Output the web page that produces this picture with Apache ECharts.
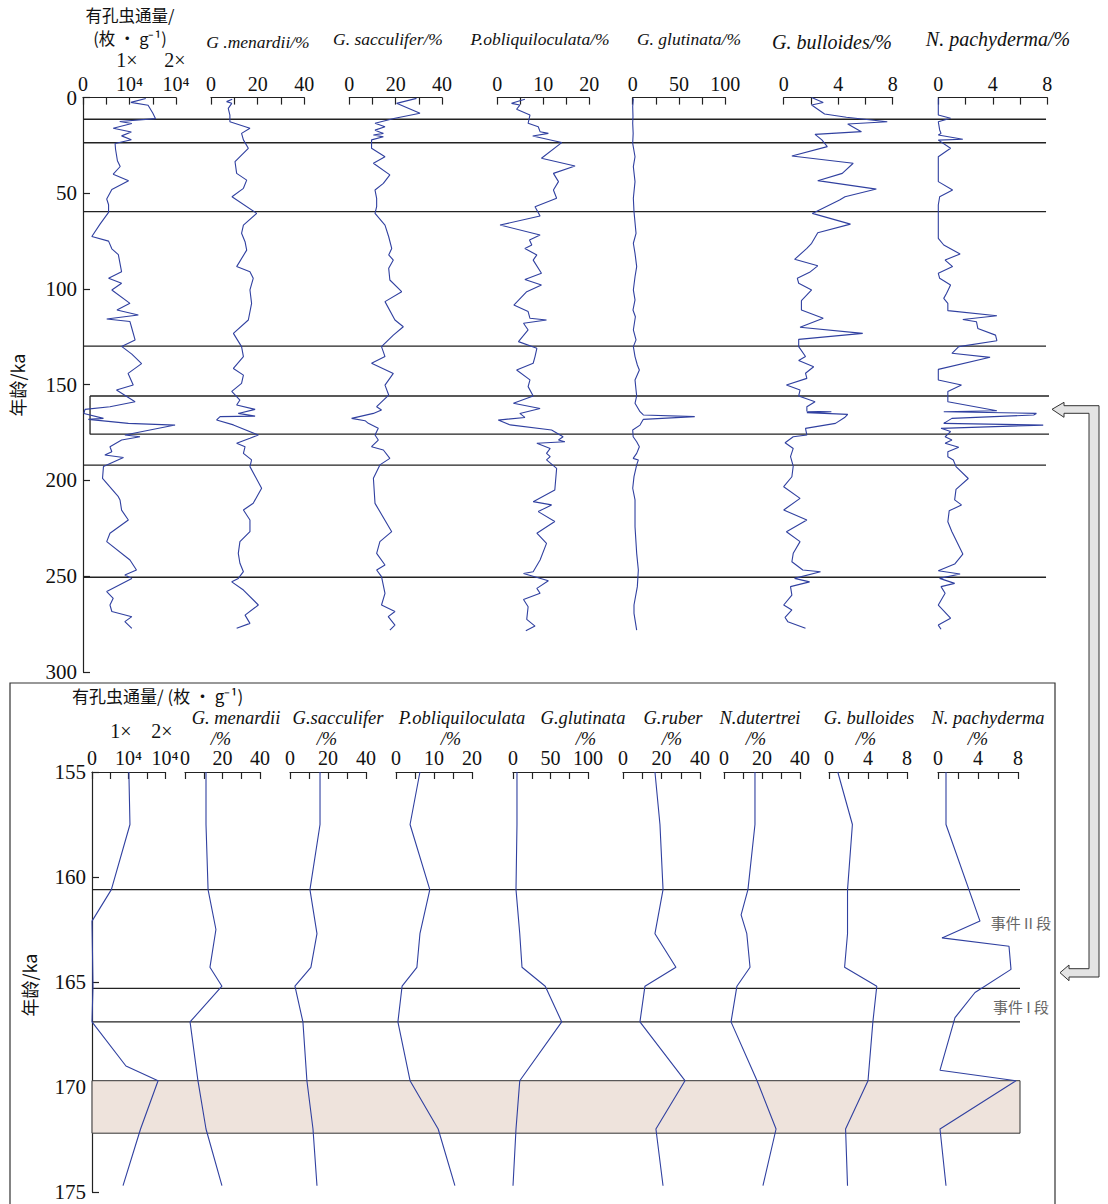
<!DOCTYPE html>
<html><head><meta charset="utf-8">
<script src="https://cdn.jsdelivr.net/npm/echarts@6/dist/echarts.min.js"></script>
<style>html,body{margin:0;padding:0;background:#fff}#c{width:1108px;height:1204px}</style>
</head><body><div id="c"></div>
<script>
// ---------- DATA (pairs are [age ka, value]) ----------
const fluxTop = [[0.5,13500],[2.5,10300],[4,14000],[8,15000],[11,15600],[12.5,7900],[13.5,10500],[16,6500],[18,10400],[20,8300],[22,10400],[24,6900],[27,7000],[33,7400],[36,8000],[40,6500],[43.5,9800],[48,6200],[53,5100],[56,5500],[60,5500],[66,3700],[72.6,1900],[75,5500],[79,6200],[82,7600],[91,8300],[94.4,5500],[97,8300],[100.5,6200],[107.5,10100],[111,7300],[113.6,11900],[115.7,5100],[117,10100],[120.5,10500],[126.6,11200],[130,8300],[134,10500],[139,12600],[144.1,9700],[150.2,10800],[152.8,7200],[158.9,11200],[161.5,5800],[162.9,430],[165,200],[167.6,4400],[168.1,1150],[170.2,9750],[171.1,19800],[176.3,9000],[177.2,12260],[178.9,8300],[182.4,5800],[185,6200],[186.7,4700],[188,8700],[192.8,4400],[198.9,4200],[208.5,7600],[210.2,7960],[215.5,8300],[220.7,9750],[227.6,5800],[232,5100],[241.6,10100],[246.8,11500],[249.4,9000],[251.2,10500],[258.1,5100],[261.6,6500],[265.1,5800],[268.5,6200],[271.2,10500],[273.8,9000],[277.3,10500]];
const menardiiTop = [[0.9,9.1],[2.1,6.7],[3,8.9],[5.6,7.4],[9.1,8.1],[12.6,8.1],[16,16.7],[18.7,13.1],[22.1,13.9],[26.5,16],[33.5,10.3],[39.6,11],[43.1,15.3],[47.4,13.9],[51.8,9],[60.5,19.6],[66.6,13.9],[70.9,13.1],[75.3,14.6],[79.7,15.3],[88.3,11],[91,16.7],[94.4,18.1],[100.5,16.7],[107.5,17.4],[116.2,16],[123.2,9.6],[130.1,13.1],[135.3,13.9],[141.5,9.6],[145,13.9],[149.3,13.1],[153.5,8.9],[158,12.4],[160.6,11],[162.9,18.9],[165,11.7],[166.4,18.9],[166.7,3.9],[168.4,2.4],[171,9.6],[176.3,20.3],[178,16.7],[180.6,11],[182.4,14.6],[185.9,13.9],[189.3,17.4],[192.8,16.7],[204.1,21.7],[211.9,18.1],[215.5,13.9],[220.7,16.7],[226.8,16.7],[232,12.4],[238.1,11.7],[243.3,12.4],[247.7,13.9],[251.2,11.7],[253,8.9],[257.3,13.9],[265.1,20.3],[270.4,14.6],[274.7,16.7],[277.3,11]];
const sacculiferTop = [[0.4,29],[3,20.4],[8.2,30.5],[10.8,19.7],[13.4,11.1],[15.2,15.4],[17,11.1],[18.7,14.7],[19.5,10.4],[20.5,14.7],[22.1,9.6],[26.5,9.6],[30.9,15.4],[34.3,10.4],[40.4,17.5],[44.8,14.7],[48.3,11.1],[52.6,11.8],[57,11.8],[60.5,11.1],[66.6,15.4],[72.7,17],[78.8,18.3],[82.2,17],[84.9,19],[89.2,17],[95.3,17.5],[101.4,22.6],[106.6,15.4],[116.2,19.7],[119.7,23.3],[124.1,19],[130.1,13.9],[135.3,15.4],[138.8,9.6],[144.1,19],[150.2,15.4],[155.4,17],[161.5,11.8],[163.2,13.9],[165,10.4],[167.6,1],[168.8,6.8],[170.2,8.2],[172.8,12.5],[176.3,11.1],[178.9,12.5],[182.4,9.6],[184.1,14.7],[188.5,17.5],[191.9,13.2],[198.9,10.4],[212,11.1],[226.8,18.3],[232,13.2],[238.1,11.8],[244.2,15.4],[246.8,11.8],[250.3,13.9],[259,15.4],[265.1,13.9],[268.5,19.7],[271.2,16.8],[275.6,19.7],[278.2,17.5]];
const obliqTop = [[0.9,6],[3,3.1],[3.9,4.9],[6.1,4.2],[9.1,7.1],[13.4,6.7],[15.2,8.9],[17.8,9.3],[18.7,11.1],[20.1,7.7],[23.5,14],[31.7,9.6],[35.7,16.9],[39.6,12.2],[43.9,13.3],[48.3,12.2],[52.6,12.9],[57,8.2],[61.9,9.3],[66.6,0.6],[71.8,9.3],[74.4,7],[77,7.5],[78.8,6],[82.2,8.6],[84.9,7.8],[91.8,9.6],[95,6],[97.9,9.6],[101.4,6.4],[108.4,3.6],[111.8,6.7],[115.3,7.1],[116.2,10.7],[117.9,5.7],[121.4,6.7],[127.5,4.6],[131,8.6],[135.3,8.2],[138.8,7.8],[142.3,4.2],[147.5,7.1],[151,6.7],[155.9,7.8],[159.7,3.5],[162.4,9.3],[165,4.9],[167.1,6],[168.5,0.2],[171,2.8],[173.7,11.8],[177.2,14.3],[178.9,13.3],[179.8,14.7],[180.6,8.6],[183.3,11.5],[185.9,10.7],[187.6,11.5],[189.3,10.7],[193.7,12.9],[205,12.5],[211.1,7.8],[212.8,11.8],[216.3,8.9],[221.5,12.5],[227.6,8.6],[232.9,10.7],[241.6,9.3],[247.7,7.8],[248.6,5.7],[252.4,11.1],[256.4,8.6],[259,9.3],[262.2,5.7],[266,6.7],[272.6,6.4],[276.1,8.2],[278.5,6.2]];
const glutinataTop = [[0.4,0.7],[4.7,0],[9.9,0.3],[13.4,0],[18.7,0.5],[23.9,0],[30.9,2.5],[36.1,0.7],[43.9,2.5],[52.6,0.7],[59.6,1.4],[70.9,3.6],[76.1,0.7],[81.4,2.5],[88.3,4.3],[93.6,2.5],[100.5,0.7],[105.7,2.5],[111,0.3],[114.5,2.9],[121.4,0.7],[126.6,3.6],[130.1,0.7],[135.3,2.5],[139.7,5],[142.3,7.2],[147.5,2.5],[152.8,3.6],[155.9,4.3],[159.7,2.5],[164.1,7.9],[165.8,11.5],[166.7,67],[168.1,11.5],[171.1,7.9],[173.7,0],[177.2,0.5],[179.8,4.3],[182.4,7.2],[185.9,4.3],[188.5,0.5],[189.3,6.1],[191.9,4.3],[198,1.4],[204.1,0],[210.2,2.5],[224.2,2.5],[238.1,4.3],[246.8,6.1],[255.5,5],[265.1,1.4],[269.5,1.4],[278.2,4.3]];
const bulloidesTop = [[0,2.05],[2.6,2.9],[3.9,2.05],[8.6,3.0],[10.3,4.6],[12.6,7.6],[13.8,4.7],[17.8,5.7],[19.2,2.3],[22.1,2.8],[25.6,3.2],[30.5,0.6],[34.3,5.1],[39.6,4.3],[43.4,2.5],[47.8,6.8],[51.8,4.5],[53.5,4.1],[60.5,2.1],[66.1,4.9],[70.6,2.5],[76.1,2.05],[78.8,1.7],[84.5,0.8],[87.9,2.5],[91.3,1.9],[94.4,1.0],[97,1.1],[100.5,2.05],[106.1,1.3],[111,1.3],[115.3,2.9],[120,1.2],[123.2,5.8],[126.3,1.1],[130.1,1.1],[135.3,1.6],[137.4,1.1],[140.6,2.2],[144,1.6],[146.7,1.7],[150.2,0.2],[152.8,1.2],[155.9,1.1],[158.9,2.3],[161.5,1.7],[163.9,1.7],[164.1,3.5],[164.6,1.7],[165.5,4.7],[167,4.5],[170.2,3.8],[172.8,1.6],[176.3,1.7],[177.2,0.7],[180.3,0.1],[183.3,0.7],[187.6,0.5],[192.5,0.7],[198.1,0.6],[203.3,0],[209.4,1.2],[215.5,0],[220.7,1.7],[226.8,0.2],[232,1.2],[238.1,0.7],[242.5,0.6],[246.8,1.4],[247.7,2.7],[251.2,0.8],[253,1.9],[255.5,0.5],[259.9,0.6],[265.1,0],[267.7,0.6],[271.6,0.1],[273.8,0.3],[277.3,1.6]];
const pachydermaTop = [[0.5,0],[9.1,0],[10.8,0.9],[12.6,0],[16.9,0.1],[18.7,0.2],[19.5,0],[21.8,1.8],[22.2,0],[26.5,0.9],[30.9,0],[43.9,0],[48.3,1.05],[51.8,0.1],[56.1,0],[73.5,0],[77,0.4],[81.7,1.6],[84.9,0.5],[88.3,1.05],[91.8,0],[94.4,0.1],[97.9,0.9],[102.3,0.6],[104.9,0.4],[107.5,0.7],[111.3,0.7],[114,4.3],[115.9,1.8],[117.1,2.8],[120.6,2.9],[124.1,4.2],[127,4.3],[130.1,1.5],[133.6,1],[135.7,3.8],[142,0],[147.5,0],[150.2,1.7],[153.6,0.7],[158.9,0.7],[163.6,4.3],[164.1,0.4],[165,7.2],[165.8,7],[167.6,1],[170.2,0.4],[171.1,7.7],[172.8,0.2],[174.5,0.9],[177.2,0.5],[178.9,1],[180.6,0.5],[182.7,1.5],[185,0.7],[187.6,0.7],[189.3,1.1],[192.8,1.3],[199,2.2],[204.7,1.3],[210.2,1.2],[212.8,1.7],[215.9,0.8],[221.6,0.7],[226.8,1],[238.5,1.8],[243.7,1.2],[247.2,0],[248.9,1.6],[251.2,0.1],[253.8,1.2],[255.5,0.2],[259,0.5],[265.1,0],[272,0.9],[275.6,0],[277.8,0.2]];

const fluxBot = [[155,10100],[157.5,10400],[160.6,5300],[162.1,0],[165.2,270],[166.9,0],[169,9300],[169.7,18100],[172,13300],[174.7,8500]];
const menardiiBot = [[155,11.2],[157.5,11.2],[160.6,12.3],[162.5,16.5],[164.3,13.3],[165.2,19.7],[166.9,2.7],[169.7,6.9],[172,11.2],[174.7,19.7]];
const sacculiferBot = [[155,15.8],[157.5,15.8],[160.6,10.5],[162.7,14.2],[164.3,11],[165.2,2.6],[166.9,6.8],[169.7,8.9],[172,12.1],[174.7,14.2]];
const obliqBot = [[155,6.3],[157.5,3.7],[160.6,8.9],[162.7,6.3],[164.3,5.5],[165.2,1.6],[166.9,0.5],[169.7,3.7],[172,11.1],[174.7,15.5]];
const glutinataBot = [[155,5.3],[157.5,5.3],[160.6,4],[162.7,9],[164.3,12],[165.2,43],[166.9,65],[169.7,9],[172,4],[174.7,0]];
const ruberBot = [[155,16.6],[157.5,19.2],[160.6,20.8],[162.7,16.6],[164.3,27.5],[165.2,11.4],[166.9,8.8],[169.7,32.2],[172,17.1],[174.7,20.8]];
const dutertreiBot = [[155,16.3],[157.5,16.3],[160.6,12.6],[161.8,9],[162.7,12],[164.3,13.7],[165.2,6.8],[166.9,3.7],[169.7,17.4],[172,27.4],[174.7,20.5]];
const bulloidesBot = [[155,0.9],[157.5,2.4],[160.6,1.9],[162.7,1.9],[164.3,1.6],[165.2,4.9],[166.9,4.5],[169.7,4.0],[172,1.7],[174.7,1.9]];
const pachydermaBot = [[155,0.8],[157.5,0.8],[162.1,4.2],[162.9,0.4],[163.3,7.1],[164.4,7.3],[165.5,3.7],[166.7,1.7],[169.2,0.2],[169.7,7.8],[172,0.2],[174.7,0.8]];

// event boundaries (ka)
const topLines = [11.3, 23.6, 59.6, 129.8, 192, 250.6];
const topBox = [155.9, 175.8];
const botLines = [160.6, 165.3, 166.9];
const botShade = [169.7, 172.2];

// tick labels
const fluxTicks = {0:'0', 10000:'10⁴', 20000:'10⁴'};
const pct40Ticks = {0:'0', 20:'20', 40:'40'};
const pct20Ticks = {0:'0', 10:'10', 20:'20'};
const pct100Ticks = {0:'0', 50:'50', 100:'100'};
const pct8Ticks = {0:'0', 4:'4', 8:'8'};

// ---------- LAYOUT ----------
const SERIF = "'Liberation Serif','Times New Roman',serif";
const CJK = "'Noto Sans CJK SC','Liberation Serif',serif";
const BLUE = '#3040a0';
const topTop = 97.6, topH = 574.2;
const botTop = 772, botH = 420;

const topCols = [
  {left:83, width:93, max:20000, interval:5000, ticks:fluxTicks, data:fluxTop},
  {left:211, width:93.3, max:40, interval:10, ticks:pct40Ticks, data:menardiiTop},
  {left:349.3, width:92.7, max:40, interval:10, ticks:pct40Ticks, data:sacculiferTop},
  {left:497.3, width:92, max:20, interval:5, ticks:pct20Ticks, data:obliqTop},
  {left:632.7, width:92.6, max:100, interval:25, ticks:pct100Ticks, data:glutinataTop},
  {left:783.7, width:109, max:8, interval:2, ticks:pct8Ticks, data:bulloidesTop},
  {left:938.3, width:109, max:8, interval:2, ticks:pct8Ticks, data:pachydermaTop}
];
const botCols = [
  {left:92, width:73, max:20000, interval:5000, ticks:fluxTicks, data:fluxBot},
  {left:185, width:75, max:40, interval:10, ticks:pct40Ticks, data:menardiiBot},
  {left:290, width:76, max:40, interval:10, ticks:pct40Ticks, data:sacculiferBot},
  {left:396, width:76, max:20, interval:5, ticks:pct20Ticks, data:obliqBot},
  {left:513, width:75, max:100, interval:25, ticks:pct100Ticks, data:glutinataBot},
  {left:623, width:77, max:40, interval:10, ticks:pct40Ticks, data:ruberBot},
  {left:724, width:76, max:40, interval:10, ticks:pct40Ticks, data:dutertreiBot},
  {left:829, width:78, max:8, interval:2, ticks:pct8Ticks, data:bulloidesBot},
  {left:938, width:80, max:8, interval:2, ticks:pct8Ticks, data:pachydermaBot}
];

const grid = [], xAxis = [], yAxis = [], series = [];
function addCol(c, top, h, ymin, ymax, fs) {
  const i = grid.length;
  grid.push({left:c.left, top:top, width:c.width, height:h, outerBoundsMode:'none', containLabel:false});
  xAxis.push({type:'value', gridIndex:i, position:'top', min:0, max:c.max, interval:c.interval,
    axisLine:{show:true, onZero:false, lineStyle:{color:'#222', width:1.2}},
    axisTick:{show:true, inside:true, length:7, lineStyle:{color:'#222', width:1.2}},
    axisLabel:{show:true, margin:4, color:'#111', fontFamily:SERIF, fontSize:fs,
      formatter: v => (c.ticks[v] !== undefined ? c.ticks[v] : '')},
    splitLine:{show:false}});
  yAxis.push({type:'value', gridIndex:i, min:ymin, max:ymax, inverse:true, show:false});
  series.push({type:'line', xAxisIndex:i, yAxisIndex:i, data:c.data.map(d => [d[1], d[0]]),
    showSymbol:false, silent:true, clip:false, lineStyle:{color:BLUE, width:1.1}, z:5});
}
topCols.forEach(c => addCol(c, topTop, topH, 0, 300, 20));
botCols.forEach(c => addCol(c, botTop, botH, 155, 175, 20));

function addFrame(left, width, top, h, ymin, ymax, interval) {
  const i = grid.length;
  grid.push({left:left, top:top, width:width, height:h, outerBoundsMode:'none', containLabel:false});
  xAxis.push({type:'value', gridIndex:i, min:0, max:1, show:false});
  yAxis.push({type:'value', gridIndex:i, min:ymin, max:ymax, interval:interval, inverse:true,
    axisLine:{show:true, lineStyle:{color:'#222', width:1.2}},
    axisTick:{show:true, inside:true, length:7, lineStyle:{color:'#222', width:1.2}},
    axisLabel:{show:true, margin:6, color:'#111', fontFamily:SERIF, fontSize:21},
    splitLine:{show:false}});
  return i;
}
const tf = addFrame(83, 964, topTop, topH, 0, 300, 50);
topLines.forEach(a => series.push({type:'line', xAxisIndex:tf, yAxisIndex:tf, data:[[0,a],[0.999,a]],
  showSymbol:false, silent:true, lineStyle:{color:'#222', width:1.3}, z:3}));
series.push({type:'line', xAxisIndex:tf, yAxisIndex:tf, clip:false,
  data:[[0.0073,topBox[0]],[1.0041,topBox[0]],[1.0041,topBox[1]],[0.0073,topBox[1]],[0.0073,topBox[0]]],
  showSymbol:false, silent:true, lineStyle:{color:'#222', width:1.3}, z:3});

const bf = addFrame(92, 928, botTop, botH, 155, 175, 5);
botLines.forEach(a => series.push({type:'line', xAxisIndex:bf, yAxisIndex:bf, data:[[0,a],[1,a]],
  showSymbol:false, silent:true, lineStyle:{color:'#222', width:1.3}, z:3}));
series.push({type:'line', xAxisIndex:bf, yAxisIndex:bf, data:[], silent:true, z:1,
  markArea:{silent:true, itemStyle:{color:'#eee3dc', borderColor:'#333', borderWidth:1},
    data:[[{xAxis:0, yAxis:botShade[0]},{xAxis:1, yAxis:botShade[1]}]]}});

// ---------- TEXT / ANNOTATIONS ----------
function txt(x, y, s, opt) {
  return Object.assign({type:'text', x:x, y:y, silent:true, style:Object.assign({text:s, fill:'#111',
    font:'15px ' + SERIF, textAlign:'center', textVerticalAlign:'middle'}, opt || {})});
}
const IT = "italic 17.5px " + SERIF;
const IT2 = "italic 20px " + SERIF;
const IB = "italic 18.5px " + SERIF;
const graphic = [
  // top header
  txt(130, 15, '有孔虫通量/', {font:'16.5px ' + CJK}),
  txt(130, 38, '(枚 • g⁻¹)', {font:'16.5px ' + CJK}),
  txt(127, 60, '1×', {font:'20px ' + SERIF}),
  txt(175, 60, '2×', {font:'20px ' + SERIF}),
  txt(258, 42, 'G .menardii/%', {font:IT}),
  txt(388, 39, 'G. sacculifer/%', {font:IT}),
  txt(540, 39, 'P.obliquiloculata/%', {font:IT}),
  txt(689, 39, 'G. glutinata/%', {font:IT}),
  txt(832, 42, 'G. bulloides/%', {font:IT2}),
  txt(998, 39, 'N. pachyderma/%', {font:IT2}),
  // y-axis names
  Object.assign(txt(17, 385, '年龄/ka', {font:'18px ' + CJK}), {rotation:Math.PI/2}),
  Object.assign(txt(29, 985, '年龄/ka', {font:'18px ' + CJK}), {rotation:Math.PI/2}),
  // bottom frame
  {type:'rect', silent:true, shape:{x:10, y:683, width:1045, height:540},
    style:{fill:'none', stroke:'#333', lineWidth:1.2}},
  txt(72, 695, '有孔虫通量/ (枚 • g⁻¹)', {font:'17px ' + CJK, textAlign:'left'}),
  txt(121, 731, '1×', {font:'20px ' + SERIF}),
  txt(162, 731, '2×', {font:'20px ' + SERIF}),
  txt(236, 718, 'G. menardii', {font:IB}),
  txt(338, 718, 'G.sacculifer', {font:IB}),
  txt(462, 718, 'P.obliquiloculata', {font:IB}),
  txt(583, 718, 'G.glutinata', {font:IB}),
  txt(673, 718, 'G.ruber', {font:IB}),
  txt(760, 718, 'N.dutertrei', {font:IB}),
  txt(869, 718, 'G. bulloides', {font:IB}),
  txt(988, 718, 'N. pachyderma', {font:IB}),
  txt(221, 739, '/%', {font:IB}),
  txt(327, 739, '/%', {font:IB}),
  txt(451, 739, '/%', {font:IB}),
  txt(586, 739, '/%', {font:IB}),
  txt(672, 739, '/%', {font:IB}),
  txt(756, 739, '/%', {font:IB}),
  txt(866, 739, '/%', {font:IB}),
  txt(978, 739, '/%', {font:IB}),
  txt(1021, 922, '事件 II 段', {font:'15px ' + CJK, fill:'#666'}),
  txt(1021, 1006, '事件 I 段', {font:'15px ' + CJK, fill:'#666'}),
  // connector arrow
  {type:'polygon', silent:true, z:10, shape:{points:[[1052,409.3],[1064,402.3],[1064,405.7],[1099,405.7],[1099,977],[1069,977],[1069,980.7],[1060,972.7],[1069,965],[1069,968.7],[1089,968.7],[1089,413.3],[1064,413.3],[1064,417.3]]},
    style:{fill:'#e4e4e4', stroke:'#333', lineWidth:1}}
];

const chart = echarts.init(document.getElementById('c'), null, {renderer:'svg'});
chart.setOption({animation:false, backgroundColor:'#fff', grid, xAxis, yAxis, series, graphic});
</script></body></html>
